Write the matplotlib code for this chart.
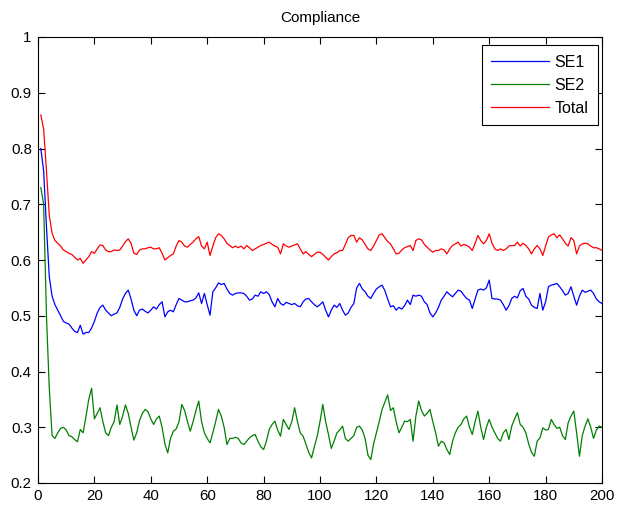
import numpy as np
import matplotlib
matplotlib.use("Agg")
import matplotlib.pyplot as plt

iterations = np.arange(1, 201)

total = [
    0.86, 0.835, 0.76, 0.68, 0.648, 0.635, 0.63, 0.625, 0.618, 0.615,
    0.612, 0.61, 0.605, 0.60, 0.603, 0.594, 0.60, 0.606, 0.615, 0.612,
    0.62, 0.627, 0.626, 0.618, 0.615, 0.615, 0.618, 0.617, 0.618, 0.625,
    0.633, 0.638, 0.63, 0.612, 0.61, 0.618, 0.62, 0.62, 0.622, 0.623,
    0.62, 0.62, 0.622, 0.612, 0.60, 0.604, 0.608, 0.611, 0.625, 0.635,
    0.632, 0.625, 0.623, 0.628, 0.632, 0.638, 0.642, 0.625, 0.62, 0.632,
    0.608, 0.625, 0.64, 0.647, 0.644, 0.638, 0.63, 0.626, 0.622, 0.625,
    0.622, 0.625, 0.62, 0.626, 0.622, 0.617, 0.62, 0.623, 0.626, 0.628,
    0.63, 0.632, 0.628, 0.625, 0.623, 0.611, 0.629, 0.625, 0.623, 0.625,
    0.627, 0.629, 0.62, 0.611, 0.615, 0.61, 0.606, 0.61, 0.614, 0.614,
    0.61, 0.605, 0.60, 0.606, 0.611, 0.613, 0.617, 0.617, 0.628, 0.64,
    0.644, 0.644, 0.632, 0.64, 0.636, 0.628, 0.62, 0.617, 0.625, 0.635,
    0.645, 0.647, 0.64, 0.633, 0.629, 0.62, 0.611, 0.612, 0.618, 0.622,
    0.624, 0.626, 0.617, 0.635, 0.638, 0.636, 0.628, 0.623, 0.618, 0.614,
    0.617, 0.617, 0.62, 0.618, 0.611, 0.62, 0.626, 0.629, 0.632, 0.625,
    0.628, 0.626, 0.623, 0.617, 0.63, 0.644, 0.635, 0.629, 0.635, 0.647,
    0.63, 0.62, 0.617, 0.62, 0.617, 0.62, 0.625, 0.626, 0.626, 0.632,
    0.625, 0.63, 0.626, 0.62, 0.611, 0.62, 0.626, 0.62, 0.608, 0.625,
    0.641, 0.645, 0.647, 0.64, 0.645, 0.638, 0.63, 0.625, 0.64, 0.635,
    0.611, 0.625, 0.629, 0.63, 0.629, 0.625, 0.622, 0.622, 0.62, 0.617,
]

se1 = [
    0.80, 0.76, 0.66, 0.57, 0.535, 0.52, 0.51, 0.50, 0.49, 0.487,
    0.485, 0.478, 0.472, 0.47, 0.483, 0.467, 0.47, 0.47, 0.478, 0.49,
    0.505, 0.515, 0.519, 0.51, 0.505, 0.50, 0.503, 0.505, 0.515, 0.53,
    0.54, 0.546, 0.53, 0.51, 0.50, 0.51, 0.512, 0.508, 0.505, 0.51,
    0.516, 0.512, 0.52, 0.525, 0.498, 0.507, 0.51, 0.507, 0.52, 0.531,
    0.528, 0.525, 0.525, 0.527, 0.528, 0.532, 0.541, 0.522, 0.54, 0.52,
    0.501, 0.543, 0.55, 0.559, 0.556, 0.558, 0.548, 0.54, 0.537, 0.54,
    0.541, 0.541, 0.54, 0.535, 0.528, 0.53, 0.537, 0.535, 0.543, 0.54,
    0.543, 0.538, 0.525, 0.516, 0.531, 0.522, 0.519, 0.524, 0.522, 0.52,
    0.522, 0.518, 0.516, 0.525, 0.53, 0.531, 0.525, 0.52, 0.516, 0.52,
    0.525, 0.51, 0.498, 0.51, 0.519, 0.515, 0.522, 0.51, 0.501, 0.505,
    0.515, 0.522, 0.55, 0.558, 0.548, 0.543, 0.535, 0.531, 0.54, 0.548,
    0.552, 0.555, 0.545, 0.53, 0.516, 0.518, 0.51, 0.515, 0.512, 0.518,
    0.528, 0.52, 0.537, 0.535, 0.537, 0.535, 0.525, 0.52, 0.505, 0.498,
    0.505, 0.515, 0.528, 0.535, 0.543, 0.538, 0.534, 0.54, 0.546, 0.544,
    0.537, 0.531, 0.528, 0.513, 0.53, 0.546, 0.548, 0.546, 0.55, 0.564,
    0.531, 0.53, 0.53, 0.528, 0.52, 0.51, 0.518, 0.531, 0.535, 0.532,
    0.545, 0.549, 0.535, 0.53, 0.519, 0.515, 0.513, 0.54, 0.51, 0.525,
    0.552, 0.555, 0.556, 0.558, 0.552, 0.545, 0.537, 0.54, 0.552, 0.535,
    0.519, 0.535, 0.546, 0.542, 0.544, 0.546, 0.54, 0.53, 0.525, 0.522,
]

se2 = [
    0.73, 0.70, 0.50, 0.37, 0.285, 0.28, 0.29, 0.298, 0.30, 0.295,
    0.285, 0.283, 0.278, 0.274, 0.296, 0.29, 0.319, 0.35, 0.37, 0.315,
    0.325, 0.335, 0.31, 0.29, 0.285, 0.30, 0.31, 0.34, 0.305, 0.32,
    0.34, 0.325, 0.30, 0.277, 0.29, 0.312, 0.325, 0.332, 0.328, 0.315,
    0.305, 0.315, 0.32, 0.30, 0.27, 0.254, 0.28, 0.293, 0.297, 0.31,
    0.341, 0.33, 0.31, 0.293, 0.31, 0.33, 0.347, 0.31, 0.29, 0.28,
    0.272, 0.29, 0.31, 0.332, 0.32, 0.30, 0.269, 0.28, 0.28, 0.282,
    0.28, 0.272, 0.269, 0.275, 0.281, 0.285, 0.287, 0.275, 0.265, 0.26,
    0.275, 0.296, 0.305, 0.311, 0.295, 0.284, 0.314, 0.305, 0.296, 0.31,
    0.335, 0.31, 0.29, 0.284, 0.27, 0.255, 0.245, 0.265, 0.284, 0.31,
    0.341, 0.31, 0.287, 0.262, 0.275, 0.29, 0.295, 0.302, 0.28, 0.275,
    0.28, 0.285, 0.30, 0.302, 0.295, 0.28, 0.25, 0.242, 0.27, 0.29,
    0.31, 0.332, 0.345, 0.358, 0.33, 0.335, 0.31, 0.29, 0.30, 0.311,
    0.31, 0.314, 0.275, 0.32, 0.347, 0.33, 0.32, 0.325, 0.332, 0.31,
    0.29, 0.266, 0.275, 0.272, 0.26, 0.251, 0.275, 0.29, 0.30, 0.305,
    0.315, 0.32, 0.30, 0.287, 0.31, 0.329, 0.30, 0.278, 0.30, 0.314,
    0.30, 0.29, 0.28, 0.275, 0.29, 0.296, 0.278, 0.302, 0.315, 0.326,
    0.305, 0.30, 0.29, 0.27, 0.255, 0.248, 0.275, 0.281, 0.299, 0.295,
    0.296, 0.314, 0.305, 0.298, 0.30, 0.285, 0.278, 0.308, 0.32, 0.329,
    0.29, 0.248, 0.285, 0.302, 0.315, 0.30, 0.28, 0.295, 0.302, 0.30,
]

x_ticks = [0, 20, 40, 60, 80, 100, 120, 140, 160, 180, 200]
y_ticks = [0.2, 0.3, 0.4, 0.5, 0.6, 0.7, 0.8, 0.9, 1.0]
y_tick_labels = ["0.2", "0.3", "0.4", "0.5", "0.6", "0.7", "0.8", "0.9", "1"]

plt.rcParams['font.family'] = ['Liberation Sans', 'DejaVu Sans']

W, H = 618, 505
fig = plt.figure(figsize=(W / 100, H / 100), dpi=100)
ax = fig.add_axes([38 / W, (H - 483) / H, (602 - 38) / W, (483 - 37) / H])

ax.plot(iterations, se1, color=(0, 0, 1), lw=0.9, label="SE1")
ax.plot(iterations, se2, color=(0, 0.5, 0), lw=0.9, label="SE2")
ax.plot(iterations, total, color=(1, 0, 0), lw=0.9, label="Total")

ax.set_xlim(0, 200)
ax.set_ylim(0.2, 1.0)
ax.set_xticks(x_ticks)
ax.set_yticks(y_ticks)
ax.set_yticklabels(y_tick_labels)
ax.tick_params(direction='in', top=True, right=True, length=5, width=0.8,
               labelsize=10.8, pad=4.5)
for s in ax.spines.values():
    s.set_linewidth(0.8)

ax.set_title("Compliance", fontsize=11, pad=11)

leg = ax.legend(loc='upper right', bbox_to_anchor=(598 / W, 1 - 45 / H),
                bbox_transform=fig.transFigure, borderaxespad=0,
                prop={'size': 11.5}, fancybox=False, framealpha=1,
                edgecolor='black', handlelength=3.6, handletextpad=0.35,
                labelspacing=0.5, borderpad=0.6)
leg.get_frame().set_linewidth(0.8)

fig.savefig("out.png", dpi=100, facecolor='white')
